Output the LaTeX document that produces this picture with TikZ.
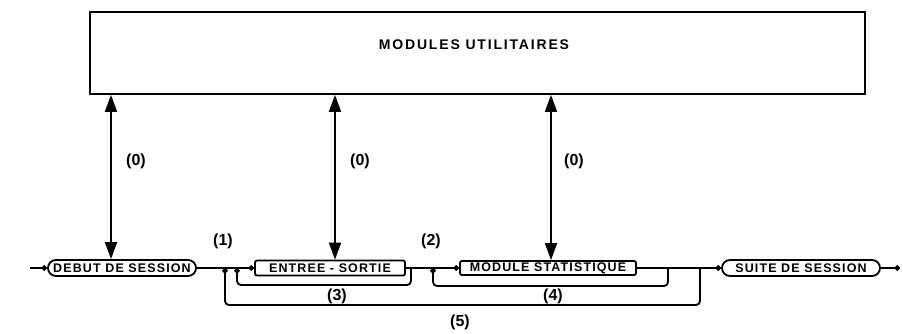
\documentclass[tikz,border=0pt]{standalone}
\usepackage{fontspec}
\setmainfont{Liberation Sans}
\newfontfamily\plotfont[LetterSpace=9]{Liberation Sans}
\newfontfamily\topfont[LetterSpace=13]{Liberation Sans}
\usetikzlibrary{arrows.meta,shapes.misc}
\begin{document}
\begin{tikzpicture}[x=1pt,y=-1pt,
  line width=1.8pt,
  every node/.style={inner sep=0pt},
  nodetext/.style={font=\plotfont\bfseries\fontsize{12.5}{14}\selectfont},
  stadium/.style={draw, rounded rectangle, nodetext},
  modbox/.style={draw, rectangle, rounded corners=2pt, nodetext},
  flow/.style={-{Circle[length=5.5pt]}},
  loopline/.style={rounded corners=4pt, -{Circle[length=5.5pt]}},
  dbl/.style={{Triangle[length=17pt,width=12pt]}-{Triangle[length=17pt,width=12pt]}},
  lbl/.style={font=\bfseries\fontsize{16}{18}\selectfont}
]
\useasboundingbox (0,0) rectangle (903,333);

% top box
\node[draw, minimum width=775pt, minimum height=82pt] (util) at (477.5,53) {};
\node[font=\topfont\bfseries\fontsize{14}{16}\selectfont] (utiltxt) at (474,45) {MODULES UTILITAIRES};

% main row
\coordinate (start) at (30,268);
\node[stadium, minimum width=148pt, minimum height=16pt] (debut) at (122,268) {DEBUT DE SESSION};
\node[modbox, minimum width=150pt, minimum height=15pt] (es) at (330,268) {ENTREE - SORTIE};
\node[modbox, minimum width=176pt, minimum height=14pt] (stat) at (548,268) {MODULE STATISTIQUE};
\node[stadium, minimum width=158pt, minimum height=16pt] (suite) at (801,268) {SUITE DE SESSION};
\coordinate (end) at (900,268);

\draw[flow] (start) -- (debut.west);
\draw[flow] (debut.east) -- (es.west);
\draw[flow] (es.east) -- (stat.west);
\draw[flow] (stat.east) -- (suite.west);
\draw[flow] (suite.east) -- (end);

% vertical double arrows
\coordinate (xa) at (111,0);
\coordinate (xb) at (335,0);
\coordinate (xc) at (551,0);
\draw[dbl] (xa |- debut.north) -- (xa |- util.south);
\draw[dbl] (xb |- es.north) -- (xb |- util.south);
\draw[dbl] (xc |- stat.north) -- (xc |- util.south);
\node[lbl] (z1) at (136,161) {(0)};
\node[lbl] (z2) at (360,161) {(0)};
\node[lbl] (z3) at (574,161) {(0)};

% loops
\coordinate (r3) at (411,268); \coordinate (l3) at (237,268);
\coordinate (r4) at (668,268); \coordinate (l4) at (433,268);
\coordinate (r5) at (700,268); \coordinate (l5) at (225,268);
\draw[loopline] (r3) -- ++(0,17) -| (l3);
\draw[loopline] (r4) -- ++(0,18) -| (l4);
\draw[loopline] (r5) -- ++(0,37) -| (l5);

% labels
\node[lbl] (n1) at (223,241) {(1)};
\node[lbl] (n2) at (431,241) {(2)};
\node[lbl] (n3) at (337,296) {(3)};
\node[lbl] (n4) at (553,296) {(4)};
\node[lbl] (n5) at (460,322) {(5)};
\end{tikzpicture}
\end{document}
